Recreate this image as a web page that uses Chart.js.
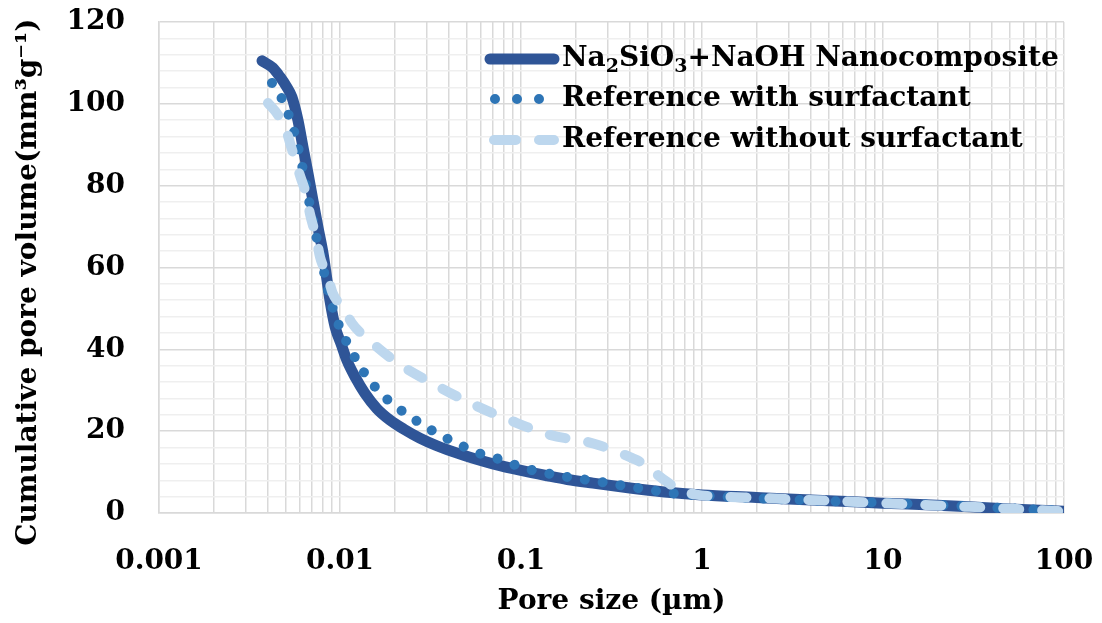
<!DOCTYPE html>
<html><head><meta charset="utf-8">
<script src="https://cdn.jsdelivr.net/npm/chart.js@4.4.1/dist/chart.umd.min.js"></script>
<style>html,body{margin:0;padding:0;background:#fff}canvas{display:block}</style>
</head><body>
<canvas id="c" width="1102" height="623"></canvas>
<script>
// ---------- data ----------
const seriesNames = ['Na_2SiO_3+NaOH Nanocomposite', 'Reference with surfactant', 'Reference without surfactant'];

const poreSize1 = [0.00371, 0.00425, 0.00466, 0.00505, 0.00542, 0.00585, 0.00624, 0.00665, 0.00708, 0.00755, 0.00805, 0.00847, 0.0088, 0.0094, 0.0102, 0.0109, 0.0122, 0.0137, 0.016, 0.0189, 0.0225, 0.0276, 0.034, 0.042, 0.055, 0.07, 0.1, 0.14, 0.18, 0.25, 0.4, 0.6, 1, 2, 3, 5, 10, 20, 30, 50, 100];
const volume1   = [110.5, 108.8, 106.6, 104.3, 101.7, 96.1, 89.5, 83.1, 76.5, 69.9, 63.6, 57.0, 52.0, 45.5, 41.0, 37.4, 33.0, 29.3, 25.5, 22.7, 20.5, 18.3, 16.5, 15.0, 13.3, 12.0, 10.4, 9.1, 8.2, 7.3, 6.1, 5.2, 4.4, 3.8, 3.4, 3.0, 2.4, 1.9, 1.5, 1.0, 0.4];

const poreSize2 = [0.00421, 0.00472, 0.00515, 0.0056, 0.006, 0.0064, 0.0068, 0.0072, 0.0077, 0.0082, 0.00879, 0.00938, 0.01021, 0.01134, 0.0126, 0.01432, 0.0166, 0.01984, 0.024, 0.0297, 0.0371, 0.0473, 0.0605, 0.078, 0.102, 0.1325, 0.1745, 0.23, 0.303, 0.399, 0.525, 0.692, 0.912, 2, 5, 10, 30, 100];
const volume2   = [105.1, 101.7, 97.8, 93.0, 87.5, 81.5, 75.5, 70.0, 64.0, 58.5, 52.6, 48.4, 44.3, 40.3, 36.6, 32.9, 29.5, 26.4, 23.8, 21.1, 18.7, 16.4, 14.4, 13.0, 11.1, 9.9, 8.9, 8.1, 7.3, 6.4, 5.6, 4.8, 4.4, 3.6, 2.9, 2.5, 1.6, 0.5];

const poreSize3 = [0.0040, 0.00454, 0.00509, 0.00543, 0.0060, 0.00655, 0.00681, 0.00744, 0.00775, 0.00857, 0.0091, 0.01064, 0.0116, 0.01444, 0.0209, 0.033, 0.0528, 0.0878, 0.144, 0.251, 0.412, 0.5, 0.569, 0.65, 0.753, 0.93, 1.3, 2, 5, 10, 30, 100];
const volume3   = [100.2, 97.3, 92.9, 88.8, 82.6, 77.3, 73.3, 66.7, 62.6, 57.7, 53.8, 49.6, 46.5, 42.3, 36.6, 31.5, 26.8, 22.6, 19.1, 17.0, 13.4, 11.5, 9.3, 7.4, 5.6, 4.5, 4.0, 3.7, 3.0, 2.4, 1.5, 0.4];

const xTickLabels = ['0.001', '0.01', '0.1', '1', '10', '100'];
const yTickLabels = ['0', '20', '40', '60', '80', '100', '120'];
const xTitle = 'Pore size (\u00b5m)';
const yTitle = 'Cumulative pore volume(mm\u00b3g\u207b\u00b9)';

// ---------- helpers ----------
const pts = (xs, ys) => xs.map((x, i) => ({x, y: ys[i]}));
const xMajors = xTickLabels.map(Number);
const yMajors = yTickLabels.map(Number);
const FONT = "'DejaVu Serif', 'Liberation Serif', serif";

const legendPlugin = {
  id: 'customLegend',
  afterDraw(chart) {
    const ctx = chart.ctx;
    const rowsY = [59, 99, 140];
    const x0 = 490, x1 = 554, tx = 562;
    ctx.save();
    chart.data.datasets.forEach((ds, i) => {
      const y = rowsY[i];
      ctx.beginPath();
      ctx.lineWidth = ds.borderWidth;
      ctx.strokeStyle = ds.borderColor;
      ctx.lineCap = 'round';
      ctx.setLineDash(ds.legendDash || []);
      ctx.moveTo(ds.legendStart || x0, y);
      ctx.lineTo(x1, y);
      ctx.stroke();
      ctx.setLineDash([]);
      // text with subscripts (marked by _d)
      let x = tx;
      ctx.fillStyle = '#000';
      ctx.textBaseline = 'middle';
      ctx.textAlign = 'left';
      const parts = seriesNames[i].split(/(_\d)/).filter(s => s.length);
      parts.forEach(p => {
        if (p[0] === '_') {
          ctx.font = 'bold 19px ' + FONT;
          ctx.fillText(p.slice(1), x, y + 8);
          x += ctx.measureText(p.slice(1)).width;
        } else {
          ctx.font = 'bold 28px ' + FONT;
          ctx.fillText(p, x, y);
          x += ctx.measureText(p).width;
        }
      });
    });
    ctx.restore();
  }
};

new Chart(document.getElementById('c'), {
  type: 'line',
  data: {
    datasets: [
      {
        label: seriesNames[0],
        data: pts(poreSize1, volume1),
        borderColor: '#2F5597',
        borderWidth: 11,
        borderCapStyle: 'round',
        borderJoinStyle: 'round',
        pointRadius: 0,
        cubicInterpolationMode: 'monotone',
        order: 3
      },
      {
        label: seriesNames[1],
        data: pts(poreSize2, volume2),
        borderColor: '#2E75B6',
        borderWidth: 10,
        borderDash: [0.001, 18],
        legendDash: [0.001, 22],
        legendStart: 495,
        borderCapStyle: 'round',
        pointRadius: 0,
        cubicInterpolationMode: 'monotone',
        order: 2
      },
      {
        label: seriesNames[2],
        data: pts(poreSize3, volume3),
        borderColor: '#BDD7EE',
        borderWidth: 10,
        borderDash: [16, 23],
        legendDash: [22, 23],
        legendStart: 494,
        borderCapStyle: 'round',
        pointRadius: 0,
        cubicInterpolationMode: 'monotone',
        order: 1
      }
    ]
  },
  options: {
    responsive: false,
    devicePixelRatio: 1,
    animation: false,
    layout: { autoPadding: false, padding: { top: 22, right: 38, left: 0, bottom: 0 } },
    plugins: { legend: { display: false }, tooltip: { enabled: false } },
    scales: {
      x: {
        type: 'logarithmic',
        min: 0.001,
        max: 100,
        afterFit(s) {
          s.height = 110;
          s.paddingLeft = 0; s.paddingRight = 0; s.paddingTop = 0; s.paddingBottom = 0;
        },
        afterBuildTicks(s) {
          const t = [];
          for (let k = 0; k < xMajors.length - 1; k++) {
            for (let m = 1; m <= 9; m++) t.push({ value: +(m * xMajors[k]).toPrecision(6) });
          }
          t.push({ value: xMajors[xMajors.length - 1] });
          s.ticks = t;
        },
        grid: { color: '#d9d9d9', lineWidth: 1.5, drawTicks: false },
        border: { color: '#d9d9d9', width: 1.5 },
        ticks: {
          autoSkip: false,
          maxRotation: 0,
          padding: 32,
          color: '#000',
          font: { family: FONT, size: 28, weight: 'bold' },
          callback(v) {
            const idx = xMajors.findIndex(m => Math.abs(v / m - 1) < 1e-6);
            return idx >= 0 ? xTickLabels[idx] : '';
          }
        },
        title: {
          display: true,
          text: xTitle,
          color: '#000',
          font: { family: FONT, size: 28, weight: 'bold' },
          padding: { top: 0, bottom: 4 }
        }
      },
      y: {
        type: 'linear',
        min: 0,
        max: 120,
        afterFit(s) {
          s.width = 159;
          s.paddingLeft = 0; s.paddingRight = 0; s.paddingTop = 0; s.paddingBottom = 0;
        },
        grid: {
          drawTicks: false,
          lineWidth: 1.5,
          color: c => (yMajors.includes(c.tick.value) ? '#d9d9d9' : '#efefef')
        },
        border: { color: '#d9d9d9', width: 1.5 },
        ticks: {
          stepSize: 4,
          autoSkip: false,
          padding: 34,
          color: '#000',
          font: { family: FONT, size: 28, weight: 'bold' },
          callback(v) {
            const idx = yMajors.indexOf(v);
            return idx >= 0 ? yTickLabels[idx] : '';
          }
        },
        title: {
          display: true,
          text: yTitle + '\u00a0\u00a0\u00a0',
          color: '#000',
          font: { family: FONT, size: 28, weight: 'bold' },
          padding: { top: 12, bottom: 0 }
        }
      }
    }
  },
  plugins: [legendPlugin]
});
</script>
</body></html>
